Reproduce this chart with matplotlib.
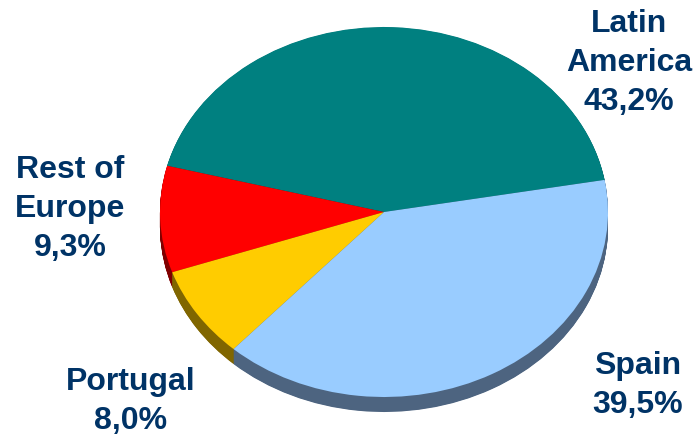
import matplotlib
matplotlib.use("Agg")
import matplotlib.pyplot as plt

# данные
regions = ["Latin\nAmerica", "Rest of\nEurope", "Portugal", "Spain"]
shares = [43.2, 9.3, 8.0, 39.5]
share_labels = ["43,2%", "9,3%", "8,0%", "39,5%"]
top_colors = ["#008080", "#FF0000", "#FFCC00", "#99CCFF"]
side_colors = ["#004040", "#800000", "#806600", "#4D6480"]

W, H = 695, 438
cx, cy = 384, 212          # центр эллипса в пикселях (сверху)
rx, ry, depth = 224, 185, 15

fig = plt.figure(figsize=(W / 100, H / 100), dpi=100)
ax = fig.add_axes([0, 0, 1, 1])

# боковая стенка: стопка тёмных кругов со сдвигом вниз
steps = 30
for i in range(steps, 0, -1):
    dy = depth / ry * i / steps
    ax.pie(shares, colors=side_colors, startangle=10, counterclock=True,
           center=(0, -dy), radius=1, wedgeprops=dict(linewidth=0))

# верхняя грань
ax.pie(shares, colors=top_colors, startangle=10, counterclock=True,
       center=(0, 0), radius=1, wedgeprops=dict(linewidth=0))

ax.set_aspect("auto")
ax.set_xlim(-cx / rx, (W - cx) / rx)
ax.set_ylim(-(H - cy) / ry, cy / ry)
ax.axis("off")

# подписи
label_pos = [(629, 25), (70, 171), (131, 383), (638, 367)]
for name, pct, (px, py) in zip(regions, share_labels, label_pos):
    fig.text(px / W, 1 - (py - 16) / H, name + "\n" + pct,
             ha="center", va="top", fontsize=23, fontweight="bold",
             color="#003366", family="Liberation Sans", linespacing=1.4)

fig.savefig("out.png", dpi=100)
